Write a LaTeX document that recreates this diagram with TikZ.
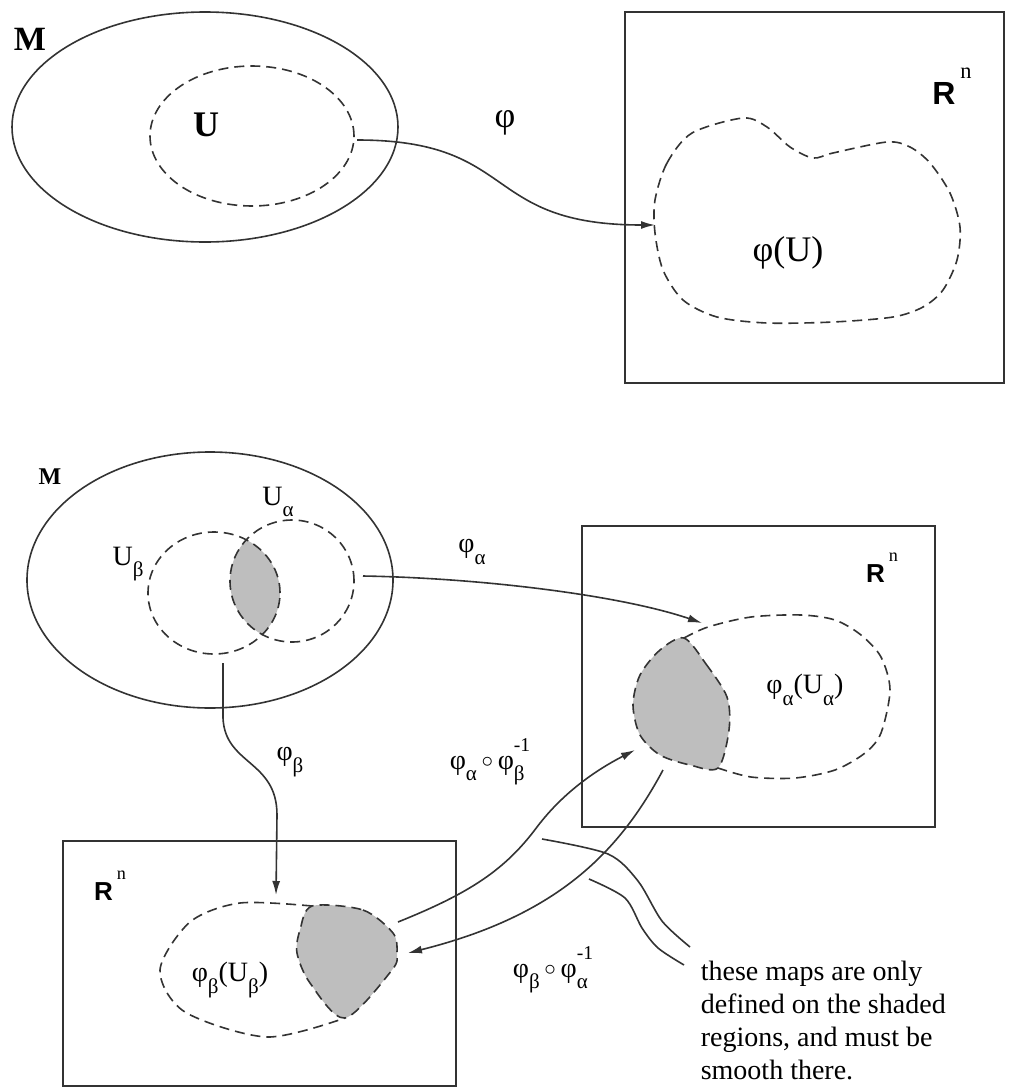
\documentclass[tikz,border=0pt]{standalone}
\usepackage{fontspec}
\setmainfont{Liberation Serif}
\setsansfont{Liberation Sans}
\usetikzlibrary{arrows.meta}
\definecolor{inkline}{HTML}{333333}
\definecolor{shadegray}{HTML}{BEBEBE}
\newcommand{\Rn}{{\sffamily\bfseries R}\kern0.15em\raisebox{0.8em}{\scalebox{0.7}{n}}}
\newcommand{\lo}[1]{\raisebox{-0.42em}{\scalebox{0.75}{#1}}}
\newcommand{\hi}[1]{\raisebox{0.62em}{\scalebox{0.7}{#1}}}
\newcommand{\comp}{\,\raisebox{0.05em}{\scalebox{0.8}{$\circ$}}\,}

\begin{document}
\begin{tikzpicture}[x=0.5pt,y=-0.5pt,>=Latex,line width=0.8pt,
  chart/.style={inkline,dash pattern=on 5pt off 3pt},
  region/.style={fill=shadegray},
  maparrow/.style={inkline,-{Latex[length=7pt,width=4pt]}},
  pointer/.style={inkline},
  frame/.style={inkline,line width=0.9pt},
  biglab/.style={font=\fontsize{18}{20}\selectfont},
  smalllab/.style={font=\fontsize{14}{16}\selectfont}]
\useasboundingbox (0,0) rectangle (1008,1087);
% --- one chart ---
\draw[inkline] (205,127) ellipse (96.5pt and 57.5pt);
\draw[chart] (252,136) ellipse (51pt and 35pt);
\draw[frame] (625,12) rectangle (1004,383);
\draw[chart] plot[smooth cycle] coordinates {(655,200) (667,163) (692,133) (743,118) (767,127)
  (790,147) (813,158) (833,153) (887,142) (910,147) (930,163) (950,193) (960,227) (957,260)
  (943,290) (923,307) (893,317) (833,322) (767,323) (717,317) (683,300) (663,270) (655,233)};
\coordinate (Uright) at (357,140);
\coordinate (imgleft) at (655,225);
\draw[maparrow] (Uright) .. controls (520,140) and (480,225) .. (imgleft);
\node[font=\fontsize{17}{20}\selectfont\bfseries] (labM) at (30,39) {M};
\node[font=\fontsize{18}{20}\selectfont\bfseries] (labU) at (206,125) {U};
\node[biglab] (labphi) at (505,123) {φ};
\node[biglab] (labphiU) at (788,253) {φ(U)};
\node[font=\fontsize{16}{18}\selectfont] (labRtop) at (952,86) {\Rn};
% --- two overlapping charts ---
\draw[inkline] (210,580) ellipse (91.5pt and 64pt);
\begin{scope}
  \clip (214,593) ellipse (33pt and 30.5pt);
  \fill[region] (292,581) ellipse (31pt and 30.5pt);
\end{scope}
\draw[chart] (214,593) ellipse (33pt and 30.5pt);
\draw[chart] (292,581) ellipse (31pt and 30.5pt);
\node[font=\fontsize{12}{14}\selectfont\bfseries] (labMtwo) at (50,477) {M};
\node[smalllab] (labUa) at (278,502) {U\lo{α}};
\node[smalllab] (labUb) at (128,564) {U\lo{β}};
% image of U_alpha
\draw[frame] (582,526) rectangle (935,827);
\fill[region] plot[smooth cycle] coordinates {(684,638) (706,664) (727,697) (729,730) (718,768)
  (690,765) (660,755) (640,735) (633,705) (640,675) (660,650)};
\draw[chart] plot[smooth cycle] coordinates {(684,638) (706,664) (727,697) (729,730) (718,768)
  (690,765) (660,755) (640,735) (633,705) (640,675) (660,650)};
\draw[chart] plot[smooth] coordinates {(684,638) (708,627) (751,617) (801,615) (835,620)
  (861,635) (881,657) (890,690) (881,733) (865,753) (835,770) (795,778) (751,777) (718,768)};
\node[font=\fontsize{13}{15}\selectfont] (labRmid) at (882,568) {\Rn};
\node[smalllab] (labphiaUa) at (805,690) {φ\lo{α}(U\lo{α})};
% image of U_beta
\draw[frame] (63,841) rectangle (456,1086);
\fill[region] plot[smooth cycle] coordinates {(312,906) (363,910) (393,933) (397,953) (392,970)
  (345,1018) (310,983) (297,953) (300,930)};
\draw[chart] plot[smooth cycle] coordinates {(312,906) (363,910) (393,933) (397,953) (392,970)
  (345,1018) (310,983) (297,953) (300,930)};
\draw[chart] plot[smooth] coordinates {(312,906) (240,903) (190,922) (160,970) (185,1012)
  (267,1037) (345,1018)};
\node[font=\fontsize{13}{15}\selectfont] (labRlow) at (110,886) {\Rn};
\node[smalllab] (labphibUb) at (230,980) {φ\lo{β}(U\lo{β})};
% maps
\coordinate (Uaright) at (363,576);
\coordinate (imgaedge) at (702,623);
\coordinate (Ubbottom) at (223,663);
\coordinate (imgbtop) at (276,895);
\coordinate (shadeb) at (398,922);
\coordinate (shadea) at (635,750);
\coordinate (shadeatail) at (663,770);
\coordinate (shadebtip) at (408,953);
\draw[maparrow] (Uaright) .. controls (480,578) and (620,595) .. (imgaedge);
\draw[maparrow] (Ubbottom) -- (223,718) .. controls (225,765) and (277,760) .. (277,815) -- (imgbtop);
\draw[maparrow] (shadeb) .. controls (470,893) and (505,870) .. (537,827)
  .. controls (565,790) and (600,768) .. (shadea);
\draw[maparrow] (shadeatail) .. controls (620,850) and (560,915) .. (shadebtip);
\node[smalllab] (labphia) at (472,552) {φ\lo{α}};
\node[smalllab] (labphib) at (290,762) {φ\lo{β}};
\node[smalllab] (labab) at (490,762) {φ\lo{α}\comp φ\rlap{\lo{β}}\hi{-1}};
\node[smalllab] (labba) at (553,970) {φ\lo{β}\comp φ\rlap{\lo{α}}\hi{-1}};
% note
\node[anchor=north west,align=left,inner sep=0pt,font=\fontsize{14}{16.6}\selectfont] (note) at (700,960)
  {these maps are only\\defined on the shaded\\regions, and must be\\smooth there.};
\coordinate (ptrone) at (542,839);
\coordinate (ptrtwo) at (589,879);
\draw[pointer] plot[smooth] coordinates {(ptrone) (608,854) (638,881) (662,921) (690,947)};
\draw[pointer] plot[smooth] coordinates {(ptrtwo) (625,898) (642,928) (658,948) (684,965)};
\end{tikzpicture}
\end{document}
